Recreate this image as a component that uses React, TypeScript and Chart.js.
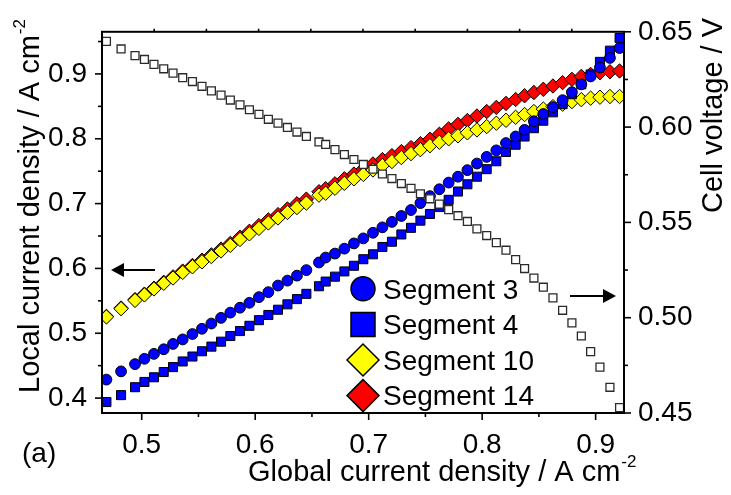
import React, { useEffect, useRef } from 'react';
import { Chart, registerables } from 'chart.js';

Chart.register(...registerables);

const FONT = '"Liberation Sans", Arial, Helvetica, sans-serif';

// Global current density / A cm-2 (shared x values)
const globalCurrent = [
  0.4689, 0.4818, 0.4941, 0.5024, 0.5108, 0.5194, 0.5276, 0.5361, 0.5447, 0.5531,
  0.5614, 0.5699, 0.5781, 0.5866, 0.5949, 0.6033, 0.6116, 0.6201, 0.6284, 0.6368,
  0.6451, 0.6562, 0.6621, 0.6703, 0.6786, 0.687, 0.6953, 0.7038, 0.7121, 0.7205,
  0.7288, 0.7373, 0.7456, 0.754, 0.7623, 0.7705, 0.7787, 0.787, 0.7954, 0.804,
  0.8125, 0.821, 0.8295, 0.8374, 0.8456, 0.8539, 0.8624, 0.8709, 0.8791, 0.8874,
  0.8956, 0.9038, 0.9126, 0.9211,
];

// Local current density / A cm-2
const segment3 = [
  0.4285, 0.4412, 0.4524, 0.4606, 0.4682, 0.4753, 0.4835, 0.4905, 0.4988, 0.5069,
  0.515, 0.5237, 0.5318, 0.5394, 0.547, 0.5557, 0.5634, 0.5736, 0.5812, 0.5889,
  0.5974, 0.6092, 0.6168, 0.6229, 0.6305, 0.6386, 0.6463, 0.655, 0.6634, 0.6718,
  0.6809, 0.6901, 0.7008, 0.7115, 0.7221, 0.7324, 0.7415, 0.7516, 0.7618, 0.7721,
  0.7821, 0.7934, 0.8035, 0.8137, 0.827, 0.8382, 0.8489, 0.8595, 0.8718, 0.884,
  0.8962, 0.9099, 0.9247, 0.94,
];
const segment4 = [
  0.3939, 0.4046, 0.4168, 0.4249, 0.4321, 0.4402, 0.4478, 0.4565, 0.4641, 0.4722,
  0.4794, 0.487, 0.4957, 0.5034, 0.5115, 0.5202, 0.5282, 0.5363, 0.5446, 0.5527,
  0.5608, 0.5725, 0.5797, 0.5873, 0.5954, 0.6041, 0.6142, 0.6218, 0.6331, 0.6412,
  0.6524, 0.6626, 0.6737, 0.684, 0.6947, 0.7058, 0.7186, 0.7298, 0.7415, 0.7531,
  0.7653, 0.7797, 0.7908, 0.8035, 0.8163, 0.8279, 0.8408, 0.8534, 0.8687, 0.884,
  0.8992, 0.9186, 0.9359, 0.9553,
];
const segment10 = [
  0.5252, 0.5379, 0.5507, 0.5592, 0.5684, 0.5771, 0.5852, 0.5939, 0.6026, 0.6102,
  0.6183, 0.627, 0.6356, 0.6447, 0.6534, 0.6618, 0.6702, 0.6779, 0.6863, 0.6939,
  0.7008, 0.713, 0.716, 0.7237, 0.7313, 0.7382, 0.745, 0.7519, 0.7588, 0.7649,
  0.771, 0.7771, 0.7832, 0.7893, 0.7947, 0.8, 0.8046, 0.8092, 0.8137, 0.8188,
  0.824, 0.8285, 0.8331, 0.8374, 0.842, 0.8458, 0.8496, 0.8534, 0.8573, 0.8603,
  0.8626, 0.8641, 0.8652, 0.8652,
];
const segment14 = [
  0.526, 0.5389, 0.5519, 0.5603, 0.5695, 0.5786, 0.587, 0.5959, 0.6046, 0.6127,
  0.6209, 0.6298, 0.6386, 0.6481, 0.6573, 0.6661, 0.6748, 0.6829, 0.6916, 0.6997,
  0.7069, 0.7183, 0.7229, 0.7305, 0.7382, 0.7455, 0.7534, 0.7611, 0.7679, 0.774,
  0.7802, 0.7863, 0.7924, 0.7992, 0.8069, 0.8153, 0.8221, 0.8282, 0.8351, 0.842,
  0.8484, 0.8545, 0.8606, 0.8664, 0.8713, 0.8763, 0.8814, 0.8866, 0.8916, 0.8962,
  0.8992, 0.9018, 0.9034, 0.9046,
];
// Cell voltage / V
const cellVoltage = [
  0.645, 0.641, 0.6375, 0.6355, 0.6329, 0.6306, 0.6283, 0.6259, 0.6239, 0.6214,
  0.619, 0.6168, 0.6142, 0.6117, 0.6091, 0.6067, 0.6041, 0.6021, 0.5998, 0.5974,
  0.5951, 0.5922, 0.5909, 0.5882, 0.5856, 0.583, 0.5804, 0.5779, 0.5754, 0.573,
  0.5704, 0.5679, 0.565, 0.5624, 0.5596, 0.5567, 0.5535, 0.5505, 0.5466, 0.5431,
  0.5394, 0.5354, 0.5305, 0.5258, 0.5208, 0.516, 0.5104, 0.5039, 0.4973, 0.4904,
  0.4822, 0.4741, 0.4635, 0.4528,
];

const xTicks = [0.5, 0.6, 0.7, 0.8, 0.9];
const leftTicks = [0.4, 0.5, 0.6, 0.7, 0.8, 0.9];
const rightTicks = [0.45, 0.5, 0.55, 0.6, 0.65];
const legendLabels = ['Segment 3', 'Segment 4', 'Segment 10', 'Segment 14'];
const xTitle = 'Global current density / A cm';
const yTitle = 'Local current density / A cm';
const y2Title = 'Cell voltage / V';
const unitExp = '-2';
const panelLabel = '(a)';

const pts = (ys: number[]) => ys.map((y, i) => ({ x: globalCurrent[i], y }));

function drawMarker(ctx: CanvasRenderingContext2D, style: string, x: number, y: number, r: number, fill: string) {
  ctx.beginPath();
  if (style === 'circle') {
    ctx.arc(x, y, r, 0, Math.PI * 2);
  } else if (style === 'rect') {
    ctx.rect(x - r, y - r, 2 * r, 2 * r);
  } else {
    ctx.moveTo(x - r, y);
    ctx.lineTo(x, y - r);
    ctx.lineTo(x + r, y);
    ctx.lineTo(x, y + r);
    ctx.closePath();
  }
  ctx.fillStyle = fill;
  ctx.fill();
  ctx.lineWidth = 1.5;
  ctx.strokeStyle = '#000';
  ctx.stroke();
}

const decorPlugin = {
  id: 'decor',
  afterDraw(chart: any) {
    const ctx: CanvasRenderingContext2D = chart.ctx;
    const { left, right, top, bottom } = chart.chartArea;
    const xs = chart.scales.x;
    const ys = chart.scales.y;
    const y2s = chart.scales.y2;
    ctx.save();
    ctx.strokeStyle = '#000';
    ctx.lineWidth = 2;
    ctx.strokeRect(left, top, right - left, bottom - top);

    const line = (x1: number, y1: number, x2: number, y2: number) => {
      ctx.beginPath();
      ctx.moveTo(x1, y1);
      ctx.lineTo(x2, y2);
      ctx.stroke();
    };
    const minors = (ticks: number[], min: number, max: number) => {
      const step = ticks[1] - ticks[0];
      const out: number[] = [];
      for (let i = -1; i < ticks.length; i++) {
        const v = ticks[0] + (i + 0.5) * step;
        if (v > min && v < max) out.push(v);
      }
      return out;
    };
    ctx.lineWidth = 1.6;
    xTicks.forEach((v) => { const p = xs.getPixelForValue(v); line(p, bottom, p, bottom + 7); });
    minors(xTicks, xs.min, xs.max).forEach((v) => { const p = xs.getPixelForValue(v); line(p, bottom, p, bottom + 4); });
    leftTicks.forEach((v) => { const p = ys.getPixelForValue(v); line(left, p, left - 7, p); });
    minors(leftTicks, ys.min, ys.max).forEach((v) => { const p = ys.getPixelForValue(v); line(left, p, left - 4, p); });
    rightTicks.forEach((v) => { const p = y2s.getPixelForValue(v); line(right, p, right + 7, p); });
    minors(rightTicks, y2s.min, y2s.max).forEach((v) => { const p = y2s.getPixelForValue(v); line(right, p, right + 4, p); });
    for (let i = 1; i < 10; i++) {
      const p = left + ((right - left) * i) / 10;
      line(p, top, p, top - 3);
    }

    // arrows
    ctx.lineWidth = 2;
    ctx.fillStyle = '#000';
    const arrow = (x1: number, x2: number, y: number) => {
      const dir = Math.sign(x2 - x1);
      line(x1, y, x2 - dir * 10, y);
      ctx.beginPath();
      ctx.moveTo(x2, y);
      ctx.lineTo(x2 - dir * 13, y - 7);
      ctx.lineTo(x2 - dir * 13, y + 7);
      ctx.closePath();
      ctx.fill();
    };
    arrow(left + 53, left + 9, 270);
    arrow(right - 54, right - 8, 296);

    // titles
    ctx.fillStyle = '#000';
    ctx.textAlign = 'left';
    ctx.textBaseline = 'alphabetic';
    ctx.font = `29px ${FONT}`;
    const bx = 248;
    const by = 481;
    ctx.fillText(xTitle, bx, by);
    let w = ctx.measureText(xTitle).width;
    ctx.font = `17px ${FONT}`;
    ctx.fillText(unitExp, bx + w + 1, by - 14);

    ctx.save();
    ctx.translate(39, 393);
    ctx.rotate(-Math.PI / 2);
    ctx.font = `29px ${FONT}`;
    ctx.fillText(yTitle, 0, 0);
    w = ctx.measureText(yTitle).width;
    ctx.font = `17px ${FONT}`;
    ctx.fillText(unitExp, w + 1, -14);
    ctx.restore();

    ctx.save();
    ctx.translate(722, 213);
    ctx.rotate(-Math.PI / 2);
    ctx.font = `29px ${FONT}`;
    ctx.fillText(y2Title, 0, 0);
    ctx.restore();

    ctx.font = `28px ${FONT}`;
    ctx.fillText(panelLabel, 22, 462);

    // legend
    const styles = [
      { style: 'circle', r: 12 },
      { style: 'rect', r: 12 },
      { style: 'diamond', r: 16 },
      { style: 'diamond', r: 16 },
    ];
    const dsIndex = [1, 2, 3, 4];
    const mx = left + 261;
    const tx = left + 281;
    legendLabels.forEach((label, i) => {
      const yy = top + 257 + i * 35.6;
      const ds = chart.data.datasets[dsIndex[i]];
      drawMarker(ctx, styles[i].style, mx, yy, styles[i].r, ds.backgroundColor);
      ctx.fillStyle = '#000';
      ctx.font = `28px ${FONT}`;
      ctx.textBaseline = 'middle';
      ctx.fillText(label, tx, yy + 2);
    });
    ctx.restore();
  },
};

export default function App() {
  const ref = useRef<HTMLCanvasElement | null>(null);
  useEffect(() => {
    if (!ref.current) return;
    const tickFont = { family: FONT, size: 28 };
    const chart = new Chart(ref.current, {
      type: 'scatter',
      data: {
        datasets: [
          {
            label: 'Cell voltage',
            data: pts(cellVoltage),
            yAxisID: 'y2',
            pointStyle: 'rect',
            pointRadius: 5.6,
            backgroundColor: '#ffffff',
            borderColor: '#2a2a2a',
            borderWidth: 1.3,
            order: 0,
          },
          {
            label: legendLabels[0],
            data: pts(segment3),
            yAxisID: 'y',
            pointStyle: 'circle',
            pointRadius: 5.4,
            backgroundColor: '#0000ff',
            borderColor: '#000',
            borderWidth: 1,
            order: 1,
          },
          {
            label: legendLabels[1],
            data: pts(segment4),
            yAxisID: 'y',
            pointStyle: 'rect',
            pointRadius: 6.4,
            backgroundColor: '#0000ff',
            borderColor: '#000',
            borderWidth: 1,
            order: 2,
          },
          {
            label: legendLabels[2],
            data: pts(segment10),
            yAxisID: 'y',
            pointStyle: 'rectRot',
            pointRadius: 7.2,
            backgroundColor: '#ffff00',
            borderColor: '#000',
            borderWidth: 1,
            order: 3,
          },
          {
            label: legendLabels[3],
            data: pts(segment14),
            yAxisID: 'y',
            pointStyle: 'rectRot',
            pointRadius: 7.2,
            backgroundColor: '#ff0000',
            borderColor: '#000',
            borderWidth: 1,
            order: 4,
          },
        ],
      },
      options: {
        responsive: false,
        animation: false,
        events: [],
        layout: { padding: { top: 27, left: 0, right: 0, bottom: 0 } },
        plugins: { legend: { display: false }, tooltip: { enabled: false } },
        scales: {
          x: {
            type: 'linear',
            position: 'bottom',
            min: 0.465,
            max: 0.925,
            afterBuildTicks: (s: any) => { s.ticks = xTicks.map((v) => ({ value: v })); },
            afterFit: (s: any) => { s.height = 82; },
            grid: { display: false, drawTicks: false },
            border: { display: false },
            ticks: {
              font: tickFont,
              color: '#000',
              padding: 15,
              maxRotation: 0,
              autoSkip: false,
              callback: (v: any) => Number(v).toFixed(1),
            },
          },
          y: {
            type: 'linear',
            position: 'left',
            min: 0.377,
            max: 0.965,
            afterBuildTicks: (s: any) => { s.ticks = leftTicks.map((v) => ({ value: v })); },
            afterFit: (s: any) => { s.width = 102; },
            grid: { display: false, drawTicks: false },
            border: { display: false },
            ticks: {
              font: tickFont,
              color: '#000',
              padding: 15,
              autoSkip: false,
              callback: (v: any) => Number(v).toFixed(1),
            },
          },
          y2: {
            type: 'linear',
            position: 'right',
            min: 0.45,
            max: 0.65,
            afterBuildTicks: (s: any) => { s.ticks = rightTicks.map((v) => ({ value: v })); },
            afterFit: (s: any) => { s.width = 107; },
            grid: { display: false, drawTicks: false },
            border: { display: false },
            ticks: {
              font: tickFont,
              color: '#000',
              padding: 14,
              autoSkip: false,
              callback: (v: any) => Number(v).toFixed(2),
            },
          },
        },
      },
      plugins: [decorPlugin],
    } as any);
    return () => chart.destroy();
  }, []);

  return (
    <div style={{ position: 'fixed', left: 0, top: 0, width: 731, height: 495, background: '#fff' }}>
      <canvas ref={ref} width={731} height={495} style={{ display: 'block', width: 731, height: 495 }} />
    </div>
  );
}
